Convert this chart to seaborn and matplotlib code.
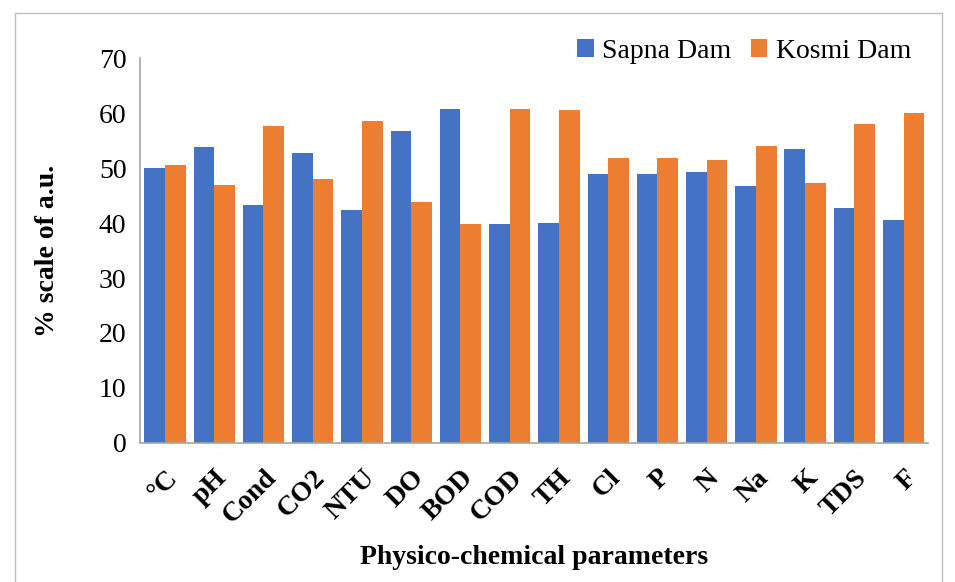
import matplotlib
matplotlib.use("Agg")
import matplotlib.pyplot as plt
import seaborn as sns
import pandas as pd
from matplotlib.patches import Rectangle

categories = ["°C", "pH", "Cond", "CO2", "NTU", "DO", "BOD", "COD", "TH",
              "Cl", "P", "N", "Na", "K", "TDS", "F"]
sapna = [50.1, 53.8, 43.2, 52.7, 42.3, 56.8, 60.8, 39.9, 40.0,
         48.9, 48.9, 49.3, 46.7, 53.4, 42.7, 40.6]
kosmi = [50.6, 47.0, 57.6, 48.1, 58.6, 43.8, 39.9, 60.8, 60.6,
         51.8, 51.8, 51.5, 54.0, 47.3, 58.0, 60.1]
series_names = ["Sapna Dam", "Kosmi Dam"]
colors = ["#4472C4", "#ED7D31"]
yticks = [0, 10, 20, 30, 40, 50, 60, 70]

df = pd.DataFrame({
    "param": categories * 2,
    "value": sapna + kosmi,
    "site": [series_names[0]] * len(categories) + [series_names[1]] * len(categories),
})

sns.set_style("white")
plt.rcParams["font.family"] = ["Liberation Serif", "DejaVu Serif"]
plt.rcParams["text.color"] = "black"
plt.rcParams["axes.labelcolor"] = "black"
plt.rcParams["xtick.color"] = "black"
plt.rcParams["ytick.color"] = "black"

fig = plt.figure(figsize=(9.55, 5.82), dpi=100)
ax = fig.add_axes([0.147, 0.239, 0.825, 0.661])

sns.barplot(data=df, x="param", y="value", hue="site", order=categories,
            hue_order=series_names, palette=colors, width=0.84, ax=ax,
            edgecolor="none", saturation=1, legend=True)

ax.set_ylim(0, 70)
ax.set_xlim(-0.5, len(categories) - 0.5)
ax.set_yticks(yticks)
ax.set_yticklabels([str(v) for v in yticks], fontsize=20)
ax.tick_params(axis="y", length=6, width=1, color="#A6A6A6", labelcolor="black",
               direction="out", pad=4)
ax.set_xticks(range(len(categories)))
ax.set_xticklabels(categories, rotation=45, ha="right", rotation_mode="anchor",
                   fontsize=20, fontweight="bold")
ax.tick_params(axis="x", length=0, pad=16, labelcolor="black")
ax.set_xticks([k - 0.5 for k in range(len(categories) + 1)], minor=True)
ax.tick_params(axis="x", which="minor", length=8, width=1, color="#A6A6A6", direction="out")

for s in ["top", "right"]:
    ax.spines[s].set_visible(False)
for s in ["left", "bottom"]:
    ax.spines[s].set_color("#A6A6A6")
    ax.spines[s].set_linewidth(1.2)

ax.set_xlabel("Physico-chemical parameters", fontsize=20, fontweight="bold", labelpad=12)
ax.set_ylabel("% scale of a.u.", fontsize=20, fontweight="bold", labelpad=28)

leg = ax.legend(loc="upper right", bbox_to_anchor=(1.01, 1.115), ncol=2, frameon=False,
                fontsize=20, handlelength=0.6, handleheight=0.6, handletextpad=0.3,
                columnspacing=0.7)

fig.patches.append(Rectangle((0.016, -0.01), 0.97, 0.988, transform=fig.transFigure,
                             fill=False, edgecolor="#BFBFBF", linewidth=1))

fig.savefig("out.png", dpi=100)
